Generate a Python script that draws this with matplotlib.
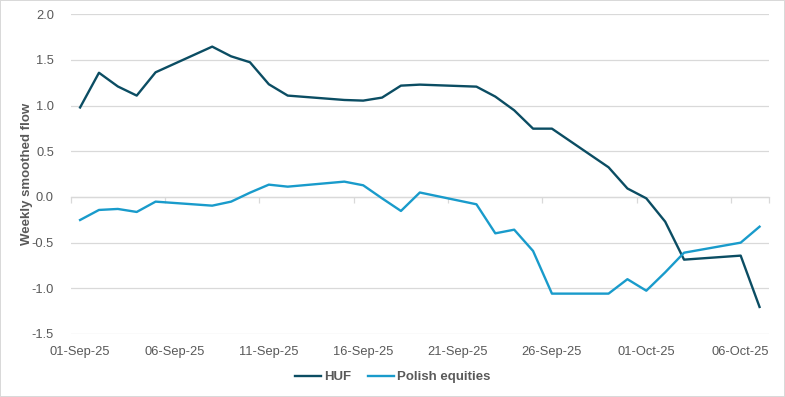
import numpy as np
import pandas as pd
import matplotlib
matplotlib.use("Agg")
import matplotlib.pyplot as plt
from matplotlib.ticker import FixedLocator, NullFormatter

plt.rcParams['font.family'] = ['Liberation Sans', 'DejaVu Sans']

# trading days (weekends skipped, line runs straight across)
dates = ["2025-09-01", "2025-09-02", "2025-09-03", "2025-09-04", "2025-09-05",
         "2025-09-08", "2025-09-09", "2025-09-10", "2025-09-11", "2025-09-12",
         "2025-09-15", "2025-09-16", "2025-09-17", "2025-09-18", "2025-09-19",
         "2025-09-22", "2025-09-23", "2025-09-24", "2025-09-25", "2025-09-26",
         "2025-09-29", "2025-09-30", "2025-10-01", "2025-10-02", "2025-10-03",
         "2025-10-06", "2025-10-07"]
huf = [0.98, 1.36, 1.21, 1.11, 1.365,
       1.646, 1.54, 1.475, 1.234, 1.11,
       1.062, 1.055, 1.088, 1.219, 1.23,
       1.208, 1.099, 0.949, 0.748, 0.748,
       0.325, 0.093, -0.015, -0.27, -0.686,
       -0.642, -1.204]
polish_eq = [-0.252, -0.142, -0.131, -0.164, -0.051,
             -0.095, -0.051, 0.047, 0.135, 0.113,
             0.168, 0.128, -0.015, -0.153, 0.049,
             -0.08, -0.398, -0.358, -0.591, -1.058,
             -1.058, -0.90, -1.026, -0.825, -0.61,
             -0.50, -0.325]
tick_dates = ["2025-09-01", "2025-09-06", "2025-09-11", "2025-09-16",
              "2025-09-21", "2025-09-26", "2025-10-01", "2025-10-06"]
yticks = [-1.5, -1.0, -0.5, 0.0, 0.5, 1.0, 1.5, 2.0]

HUF_COL = "#0B4D63"
PL_COL = "#199BCB"
TXT = "#595959"
GRID = "#D9D9D9"

start = pd.Timestamp(dates[0])
x = np.array([(pd.Timestamp(d) - start).days for d in dates])
xt = np.array([(pd.Timestamp(d) - start).days for d in tick_dates])

fig = plt.figure(figsize=(7.85, 3.97), dpi=100)
fig.patch.set_edgecolor(GRID)
fig.patch.set_linewidth(1.2)
ax = fig.add_axes([0.090, 0.1587, 0.8896, 0.8053])

ax.plot(x, huf, color=HUF_COL, lw=1.7, label="HUF", zorder=3)
ax.plot(x, polish_eq, color=PL_COL, lw=1.7, label="Polish equities", zorder=3)

ax.set_xlim(x[0] - 0.5, x[-1] + 0.5)
ax.set_ylim(yticks[0], yticks[-1])
ax.set_yticks(yticks)
ax.set_yticklabels([f"{v:.1f}" for v in yticks])
ax.set_xticks(xt)
ax.set_xticklabels([pd.Timestamp(d).strftime("%d-%b-%y") for d in tick_dates])
ax.tick_params(axis='x', length=0, pad=9, colors=TXT, labelsize=9.3)
ax.tick_params(axis='y', length=0, pad=12, colors=TXT, labelsize=9.3)
ax.grid(axis='y', color=GRID, lw=0.9, zorder=0)
for s in ax.spines.values():
    s.set_visible(False)

# category axis crosses at zero, tick marks between days
lo, hi = yticks[0], yticks[-1]
sec = ax.secondary_xaxis((0 - lo) / (hi - lo))
sec.xaxis.set_major_locator(FixedLocator(list(xt - 0.5) + [x[-1] + 0.5]))
sec.xaxis.set_major_formatter(NullFormatter())
sec.tick_params(axis='x', direction='out', length=4, width=0.9, color=GRID)
sec.spines['bottom'].set_color(GRID)
sec.spines['bottom'].set_linewidth(0.9)

ax.set_ylabel("Weekly smoothed flow", color=TXT, fontsize=9.5, fontweight='bold', labelpad=-1)

leg = fig.legend(loc='center', bbox_to_anchor=(0.5, 0.05), ncol=2, frameon=False,
                 handlelength=2.0, handletextpad=0.2, columnspacing=1.3,
                 prop={'size': 9.5, 'weight': 'bold'})
for t in leg.get_texts():
    t.set_color(TXT)

fig.savefig("out.png", dpi=100)
